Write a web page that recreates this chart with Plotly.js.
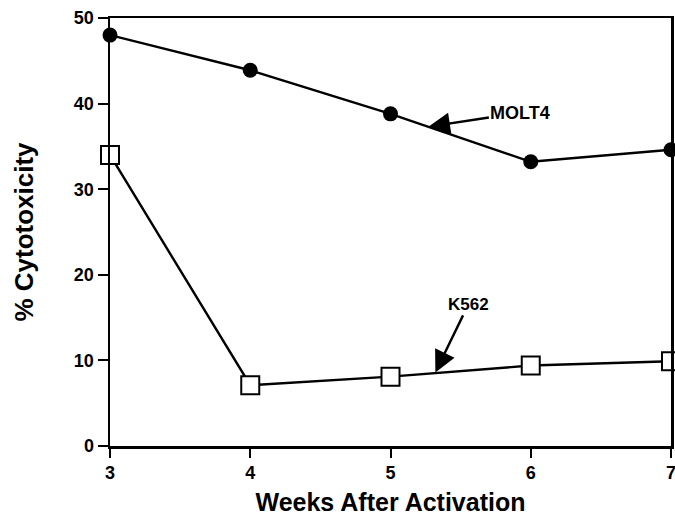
<!DOCTYPE html>
<html>
<head>
<meta charset="utf-8">
<script src="https://cdn.plot.ly/plotly-3.0.1.min.js"></script>
<style>html,body{margin:0;padding:0;background:#fff}#chart{width:675px;height:516px}</style>
</head>
<body>
<div id="chart"></div>
<script>
const weeks = [3, 4, 5, 6, 7];
const molt4 = [48.0, 43.9, 38.8, 33.2, 34.6];
const k562 = [34.0, 7.1, 8.1, 9.4, 9.9];
const xTicks = [3, 4, 5, 6, 7];
const yTicks = [0, 10, 20, 30, 40, 50];

const fontFam = 'Liberation Sans, Arial, Helvetica, sans-serif';

const traces = [
  {
    x: weeks, y: molt4, mode: 'lines+markers', name: 'MOLT4',
    line: {color: '#000', width: 2.4},
    marker: {symbol: 'circle', size: 15, color: '#000'},
    cliponaxis: false
  },
  {
    x: weeks, y: k562, mode: 'lines+markers', name: 'K562',
    line: {color: '#000', width: 2.4},
    marker: {symbol: 'square', size: 18, color: '#fff', line: {color: '#000', width: 2}},
    cliponaxis: false
  }
];

const layout = {
  width: 675, height: 516,
  margin: {l: 110, r: 4, t: 18, b: 70},
  paper_bgcolor: '#fff', plot_bgcolor: '#fff',
  showlegend: false,
  font: {family: fontFam, color: '#000'},
  xaxis: {
    range: [3, 7], tickvals: xTicks, ticktext: xTicks.map(String),
    showgrid: false, zeroline: false,
    showline: true, mirror: true, linecolor: '#000', linewidth: 2.5,
    ticks: 'outside', ticklen: 9, tickwidth: 2, tickcolor: '#000',
    ticklabeloverflow: 'allow',
    tickfont: {size: 18, weight: 'bold', family: fontFam},
    title: {text: 'Weeks After Activation', font: {size: 25, weight: 'bold', family: fontFam}, standoff: 18}
  },
  yaxis: {
    range: [0, 50], tickvals: yTicks, ticktext: yTicks.map(String),
    showgrid: false, zeroline: false,
    showline: true, mirror: true, linecolor: '#000', linewidth: 2.5,
    ticks: 'outside', ticklen: 10, tickwidth: 2, tickcolor: '#000',
    ticklabeloverflow: 'allow',
    tickfont: {size: 18, weight: 'bold', family: fontFam},
    title: {text: '% Cytotoxicity', font: {size: 26, weight: 'bold', family: fontFam}, standoff: 33}
  },
  annotations: [
    {
      x: 5.27, y: 37.3, xref: 'x', yref: 'y',
      text: 'MOLT4', font: {size: 18, weight: 'bold', family: fontFam},
      showarrow: true, arrowhead: 2, arrowsize: 1.8, arrowwidth: 2.4, arrowcolor: '#000',
      ax: 92, ay: -14
    },
    {
      x: 5.32, y: 8.6, xref: 'x', yref: 'y',
      text: 'K562', font: {size: 17, weight: 'bold', family: fontFam},
      showarrow: true, arrowhead: 2, arrowsize: 1.8, arrowwidth: 2.4, arrowcolor: '#000',
      ax: 33, ay: -68
    }
  ]
};

Plotly.newPlot('chart', traces, layout, {displayModeBar: false, staticPlot: true});
</script>
</body>
</html>
